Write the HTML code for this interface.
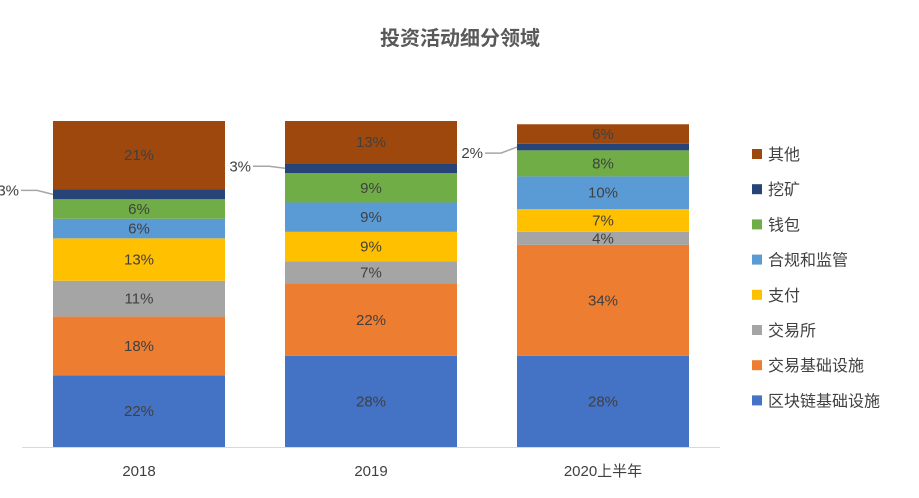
<!DOCTYPE html>
<html><head><meta charset="utf-8"><style>
body{margin:0;background:#fff;}
svg{display:block;font-family:"Liberation Sans","Noto Sans CJK SC",sans-serif;}
</style></head><body>
<svg id="chart" width="919" height="498">
<text x="460" y="45" text-anchor="middle" font-size="20" font-weight="bold" fill="#595959">投资活动细分领域</text>
<line x1="22" y1="447.5" x2="720" y2="447.5" stroke="#d9d9d9" stroke-width="1"/>
<g id="bars"></g>
<g id="legend"></g>
</svg>
<script>
const categories=["2018","2019","2020上半年"];
const seriesNames=["区块链基础设施","交易基础设施","交易所","支付","合规和监管","钱包","挖矿","其他"];
const colors=["#4472C4","#ED7D31","#A5A5A5","#FFC000","#5B9BD5","#70AD47","#264478","#9E480E"];
const s0=[22,28,28];
const s1=[18,22,34];
const s2=[11,7,4];
const s3=[13,9,7];
const s4=[6,9,10];
const s5=[6,9,8];
const s6=[3,3,2];
const s7=[21,13,6];
const series=[s0,s1,s2,s3,s4,s5,s6,s7];
const NS="http://www.w3.org/2000/svg";
const baseY=447, pxPer=3.26, barW=172, x0=53, step=232;
function xPos(i){return x0+i*step;}
function yScale(v){return baseY-v*pxPer;}
const g=document.getElementById('bars');
function mk(tag,attrs){const e=document.createElementNS(NS,tag);for(const k in attrs)e.setAttribute(k,attrs[k]);return e;}
categories.forEach((c,i)=>{
  let cum=0;
  const x=xPos(i);
  series.forEach((s,j)=>{
    const v=s[i];
    const yTop=yScale(cum+v), yBot=yScale(cum);
    const r=mk('rect',{x:x,y:yTop,width:barW,height:yBot-yTop,fill:colors[j]});
    
    
    g.appendChild(r);
    const mid=(yTop+yBot)/2;
    if(v>=4){
      const t=mk('text',{x:x+barW/2,y:mid+5,'text-anchor':'middle','font-size':15,fill:'#404040'});
      t.textContent=v+'%';
      
      
      g.appendChild(t);
    }else{
      const lx=x-18, ly=mid+ (i==0?-4:(i==1?-2:6));
      const l=mk('polyline',{points:(x)+','+mid+' '+(lx+2)+','+ly+' '+(lx-14)+','+ly,fill:'none',stroke:'#a6a6a6','stroke-width':1.5});
      
      
      g.appendChild(l);
      const t=mk('text',{x:lx-16,y:ly+5,'text-anchor':'end','font-size':15,fill:'#404040'});
      t.textContent=v+'%';
      
      
      g.appendChild(t);
    }
    cum+=v;
  });
  const t=mk('text',{x:x+barW/2,y:476,'text-anchor':'middle','font-size':15,fill:'#404040'});
  t.textContent=c;
  
  
  g.appendChild(t);
});
const lg=document.getElementById('legend');
for(let j=seriesNames.length-1;j>=0;j--){
  const k=seriesNames.length-1-j;
  const y=154+k*35.2;
  const r=mk('rect',{x:752,y:y-5,width:10,height:10,fill:colors[j]});
  
  
  lg.appendChild(r);
  const t=mk('text',{x:768,y:y+6,'font-size':16,fill:'#404040'});
  t.textContent=seriesNames[j];
  
  
  lg.appendChild(t);
}
</script>
</body></html>
